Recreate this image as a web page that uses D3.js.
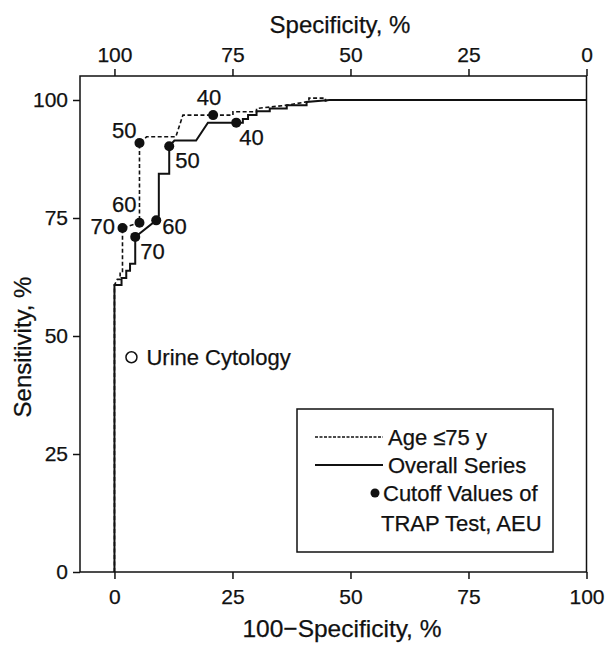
<!DOCTYPE html>
<head>
<meta charset="utf-8">
<title>ROC curve, TRAP test</title>
<style>
  body { margin: 0; background: #fff; }
  svg text { font-family: "Liberation Sans", Arial, sans-serif; fill: #111; stroke: #111; stroke-width: 0.25px; }
</style>
</head>

<div id="chart"></div>

<script src="https://cdn.jsdelivr.net/npm/d3@7"></script>
<script>
// ROC curves (x = 100 - specificity, y = sensitivity)
const overallX = [0, 0, 1.5, 1.5, 2.5, 2.5, 3.3, 3.3, 4.4, 4.4, 8.85, 9.4, 9.4, 11.6, 11.6, 12.7, 17.3, 19.8, 25.8, 27.2, 27.2, 28.3, 28.3, 30.1, 30.1, 32.9, 32.9, 36.5, 36.5, 40.7, 40.7, 45.6, 100];
const overallY = [0, 60.8, 60.8, 62.3, 62.3, 63.8, 63.8, 65.3, 65.3, 71.0, 74.5, 75.5, 84.4, 84.4, 90.2, 91.4, 91.4, 95.2, 95.2, 95.2, 96.0, 96.0, 96.8, 96.8, 97.6, 97.6, 98.2, 98.2, 98.9, 98.9, 99.6, 100, 100];

const age75X = [0, 0, 0.6, 1.2, 1.2, 1.7, 1.7, 5.3, 5.3, 6.8, 13.0, 14.5, 20.9, 25.1, 25.1, 30.1, 30.1, 36.5, 40.7, 41.2, 41.2, 44.7, 44.7, 45.6, 100];
const age75Y = [0, 60.8, 62.0, 62.0, 63.3, 63.3, 72.9, 74.0, 90.9, 92.2, 92.2, 96.8, 96.8, 96.8, 97.5, 97.5, 98.2, 98.9, 99.6, 99.6, 100.4, 100.4, 99.8, 100, 100];

// cutoff values of the TRAP test (AEU)
const cutoffLabels = ["70", "60", "50", "40"];
const overallCutX = [4.4, 8.85, 11.6, 25.8];
const overallCutY = [71.0, 74.5, 90.2, 95.2];
const age75CutX = [1.7, 5.3, 5.3, 20.9];
const age75CutY = [72.9, 74.0, 90.9, 96.8];

// urine cytology single point
const cytologyX = 3.6;
const cytologyY = 45.5;

const xTicks = [0, 25, 50, 75, 100];
const yTicks = [0, 25, 50, 75, 100];
const specTicks = [100, 75, 50, 25, 0];

const W = 606, H = 645;
const plotLeft = 80, plotRight = 586.5, plotTop = 76, plotBottom = 572;

const svg = d3.select("#chart").append("svg")
    .attr("width", W).attr("height", H);

const x = d3.scaleLinear().domain([-7.3, 100]).range([plotLeft, plotRight]);
const spec = d3.scaleLinear().domain([107.3, 0]).range([plotLeft, plotRight]);
const y = d3.scaleLinear().domain([0, 100]).range([plotBottom, plotBottom - 472]);

//
// Axes
//
const gx = svg.append("g")
    .attr("transform", `translate(0,${plotBottom})`)
    .call(d3.axisBottom(x).tickValues(xTicks).tickSize(7).tickSizeOuter(0).tickPadding(10));

const gt = svg.append("g")
    .attr("transform", `translate(0,${plotTop})`)
    .call(d3.axisTop(spec).tickValues(specTicks).tickSize(7).tickSizeOuter(0).tickPadding(7));

const gy = svg.append("g")
    .attr("transform", `translate(${plotLeft},0)`)
    .call(d3.axisLeft(y).tickValues(yTicks).tickSize(7).tickSizeOuter(0).tickPadding(5));

[gx, gt, gy].forEach(g => {
    g.select(".domain").remove();
    g.selectAll(".tick line").attr("stroke", "#111").attr("stroke-width", 1.5);
    g.selectAll(".tick text")
        .attr("font-size", 21)
        .attr("font-family", "Liberation Sans, Arial, sans-serif")
        .attr("fill", "#111");
});

// frame
svg.append("rect")
    .attr("x", plotLeft).attr("y", plotTop)
    .attr("width", plotRight - plotLeft).attr("height", plotBottom - plotTop)
    .attr("fill", "none").attr("stroke", "#111").attr("stroke-width", 1.5);

// titles
svg.append("text").attr("x", 340).attr("y", 33)
    .attr("text-anchor", "middle").attr("font-size", 24)
    .text("Specificity, %");

svg.append("text").attr("x", 342).attr("y", 637)
    .attr("text-anchor", "middle").attr("font-size", 24.5)
    .text("100\u2212Specificity, %");

svg.append("text")
    .attr("transform", "translate(31,347) rotate(-90)")
    .attr("text-anchor", "middle").attr("font-size", 24)
    .text("Sensitivity, %");

//
// Curves
//
const line = d3.line().x(d => x(d[0])).y(d => y(d[1]));

svg.append("path")
    .datum(d3.zip(age75X, age75Y))
    .attr("d", line)
    .attr("fill", "none").attr("stroke", "#111")
    .attr("stroke-width", 1.6).attr("stroke-dasharray", "4,2.5");

svg.append("path")
    .datum(d3.zip(overallX, overallY))
    .attr("d", line)
    .attr("fill", "none").attr("stroke", "#111")
    .attr("stroke-width", 2);

// cutoff dots + labels (label offsets in px, anchor)
const ageOffsets = [[-7.5, 6.5, "end"], [-3, -11, "end"], [-3, -4.5, "end"], [-4, -10.5, "middle"]];
const overallOffsets = [[5, 22.5, "start"], [6, 13.5, "start"], [6, 21.5, "start"], [3, 22, "start"]];

function drawCutoffs(cx, cy, offsets) {
    const pts = cutoffLabels.map((lab, i) => ({ lab, px: x(cx[i]), py: y(cy[i]), off: offsets[i] }));
    svg.selectAll(null).data(pts).enter().append("circle")
        .attr("cx", d => d.px).attr("cy", d => d.py).attr("r", 5)
        .attr("fill", "#111");
    svg.selectAll(null).data(pts).enter().append("text")
        .attr("x", d => d.px + d.off[0]).attr("y", d => d.py + d.off[1])
        .attr("text-anchor", d => d.off[2])
        .attr("font-size", 22)
        .text(d => d.lab);
}
drawCutoffs(age75CutX, age75CutY, ageOffsets);
drawCutoffs(overallCutX, overallCutY, overallOffsets);

// urine cytology
svg.append("circle")
    .attr("cx", x(cytologyX)).attr("cy", y(cytologyY)).attr("r", 5.5)
    .attr("fill", "#fff").attr("stroke", "#111").attr("stroke-width", 1.5);
svg.append("text")
    .attr("x", x(cytologyX) + 15).attr("y", y(cytologyY) + 8)
    .attr("font-size", 22)
    .text("Urine Cytology");

//
// Legend
//
const lg = svg.append("g");
lg.append("rect")
    .attr("x", 297).attr("y", 409).attr("width", 256).attr("height", 143)
    .attr("fill", "#fff").attr("stroke", "#111").attr("stroke-width", 1.5);
lg.append("line").attr("x1", 315).attr("x2", 383).attr("y1", 437).attr("y2", 437)
    .attr("stroke", "#111").attr("stroke-width", 1.3).attr("stroke-dasharray", "3,1.5");
lg.append("text").attr("x", 388).attr("y", 445).attr("font-size", 22).text("Age \u226475 y");
lg.append("line").attr("x1", 315).attr("x2", 383).attr("y1", 465).attr("y2", 465)
    .attr("stroke", "#111").attr("stroke-width", 2);
lg.append("text").attr("x", 388).attr("y", 473).attr("font-size", 22).text("Overall Series");
lg.append("circle").attr("cx", 375).attr("cy", 493).attr("r", 4.5).attr("fill", "#111");
lg.append("text").attr("x", 383).attr("y", 501).attr("font-size", 22).text("Cutoff Values of");
lg.append("text").attr("x", 381).attr("y", 531).attr("font-size", 22).text("TRAP Test, AEU");
</script>
